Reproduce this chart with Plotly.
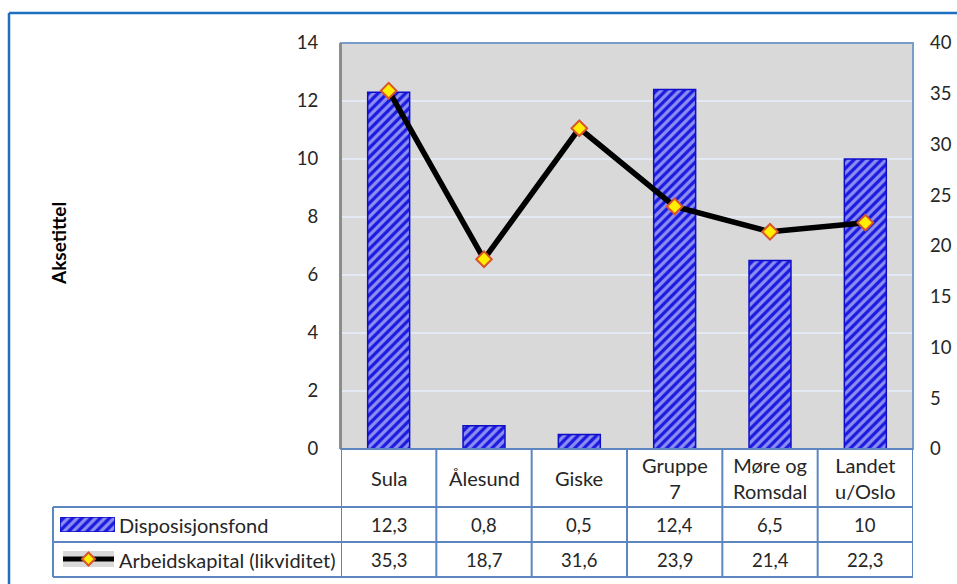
import plotly.graph_objects as go

# --- data -------------------------------------------------------------
categories = ["Sula", "Ålesund", "Giske", "Gruppe 7", "Møre og Romsdal", "Landet u/Oslo"]
header_labels = ["Sula", "Ålesund", "Giske", "Gruppe<br>7", "Møre og<br>Romsdal", "Landet<br>u/Oslo"]
disposisjonsfond = [12.3, 0.8, 0.5, 12.4, 6.5, 10]
arbeidskapital = [35.3, 18.7, 31.6, 23.9, 21.4, 22.3]
series_names = ["Disposisjonsfond", "Arbeidskapital (likviditet)"]
left_ticks = [0, 2, 4, 6, 8, 10, 12, 14]
right_ticks = [0, 5, 10, 15, 20, 25, 30, 35, 40]

# --- page geometry (pixels -> paper) ----------------------------------
W, H = 957, 584
def px(x):
    return x / W
def py(y):
    return 1 - y / H

PLOT_L, PLOT_R, PLOT_T, PLOT_B = 341, 913, 43, 449
ROW_LINES = [449, 507, 542, 577]
FONT = "Lato"
TXT = "#262626"
BLUE = "#1a1ae0"
GRID_BLUE = "#5b86c0"

bar_marker = dict(
    color=BLUE,
    line=dict(color="#0e0ec8", width=1.5),
    pattern=dict(shape="/", fgcolor="white", fillmode="overlay", size=6.5, solidity=0.5),
)
line_style = dict(color="black", width=5.5)
point_marker = dict(symbol="diamond", size=12, color="#ffee00",
                    line=dict(color="#d9542a", width=2))

fig = go.Figure()

fig.add_trace(go.Bar(
    x=categories, y=disposisjonsfond, name=series_names[0],
    marker=bar_marker, width=0.44, xaxis="x", yaxis="y",
))
fig.add_trace(go.Scatter(
    x=categories, y=arbeidskapital, name=series_names[1],
    mode="lines+markers", line=line_style, marker=point_marker,
    xaxis="x", yaxis="y2",
))

# legend keys inside the data table
fig.add_trace(go.Bar(
    x=[1], y=[0], orientation="h", width=1, marker=bar_marker,
    xaxis="x3", yaxis="y3", hoverinfo="skip",
))
fig.add_trace(go.Scatter(
    x=[0, 1], y=[0, 0], mode="lines", line=dict(color="black", width=5),
    xaxis="x4", yaxis="y4", hoverinfo="skip", cliponaxis=False,
))
fig.add_trace(go.Scatter(
    x=[0.5], y=[0], mode="markers",
    marker=dict(symbol="diamond", size=10, color="#ffee00",
                line=dict(color="#d9542a", width=2)),
    xaxis="x4", yaxis="y4", hoverinfo="skip", cliponaxis=False,
))

tick_font = dict(family=FONT, size=18.5, color=TXT)
hidden = dict(visible=False, fixedrange=True)

fig.update_layout(
    width=W, height=H,
    margin=dict(l=0, r=0, t=0, b=0, autoexpand=False),
    paper_bgcolor="white",
    plot_bgcolor="#d9d9d9",
    showlegend=False,
    xaxis=dict(
        domain=[px(PLOT_L), px(PLOT_R)], type="category",
        categoryorder="array", categoryarray=categories,
        range=[-0.5, 5.5], showticklabels=False, showgrid=False,
        ticks="", zeroline=False, showline=False, anchor="y",
    ),
    yaxis=dict(
        domain=[py(PLOT_B), py(PLOT_T)], range=[0, 14],
        tickvals=left_ticks, tickfont=tick_font, ticks="",
        ticklabelstandoff=17,
        showgrid=True, gridcolor="#e4eaf4", gridwidth=2,
        zeroline=False, showline=True, linecolor="#8c8c8c", linewidth=2,
        anchor="x",
    ),
    yaxis2=dict(
        overlaying="y", side="right", range=[0, 40], anchor="x",
        tickvals=right_ticks, tickfont=tick_font, ticks="",
        ticklabelstandoff=16, showgrid=False, zeroline=False, showline=False,
    ),
    xaxis3=dict(domain=[px(60), px(115)], range=[0, 1], anchor="y3", **hidden),
    yaxis3=dict(domain=[py(532), py(517)], range=[-0.5, 0.5], anchor="x3", **hidden),
    xaxis4=dict(domain=[px(63), px(114)], range=[0, 1], anchor="y4", **hidden),
    yaxis4=dict(domain=[py(567), py(551)], range=[-1, 1], anchor="x4", **hidden),
)

shapes = []
# plot area frame
shapes.append(dict(type="rect", xref="paper", yref="paper",
                   x0=px(PLOT_L), x1=px(PLOT_R), y0=py(PLOT_B), y1=py(PLOT_T),
                   line=dict(color="#7a9cc8", width=2), layer="above"))
shapes.append(dict(type="line", xref="paper", yref="paper",
                   x0=px(PLOT_L), x1=px(PLOT_L), y0=py(PLOT_B), y1=py(PLOT_T),
                   line=dict(color="#8c8c8c", width=2), layer="above"))

# data table: horizontal rules
shapes.append(dict(type="line", xref="paper", yref="paper",
                   x0=px(PLOT_L), x1=px(PLOT_R), y0=py(ROW_LINES[0]), y1=py(ROW_LINES[0]),
                   line=dict(color=GRID_BLUE, width=2)))
for yy in ROW_LINES[1:]:
    shapes.append(dict(type="line", xref="paper", yref="paper",
                       x0=px(53), x1=px(PLOT_R), y0=py(yy), y1=py(yy),
                       line=dict(color=GRID_BLUE, width=2)))
# data table: vertical rules at category boundaries
for i in range(len(categories) + 1):
    shapes.append(dict(type="line", xref="x", yref="paper",
                       x0=i - 0.5, x1=i - 0.5, y0=py(ROW_LINES[-1]), y1=py(ROW_LINES[0]),
                       line=dict(color=GRID_BLUE, width=2)))
# legend column left edge
shapes.append(dict(type="line", xref="paper", yref="paper",
                   x0=px(53), x1=px(53), y0=py(ROW_LINES[-1]), y1=py(ROW_LINES[1]),
                   line=dict(color=GRID_BLUE, width=2)))

# outer chart border
shapes.append(dict(type="line", xref="paper", yref="paper",
                   x0=px(9), x1=1.0, y0=py(13), y1=py(13),
                   line=dict(color="#1f6fc0", width=2.5)))
shapes.append(dict(type="line", xref="paper", yref="paper",
                   x0=px(9), x1=px(9), y0=0, y1=py(13),
                   line=dict(color="#1f6fc0", width=2.5)))
fig.update_layout(shapes=shapes)

annotations = []
text_font = dict(family=FONT, size=20, color=TXT)
num_font = dict(family=FONT, size=18.5, color=TXT)
row_mid = [(ROW_LINES[k] + ROW_LINES[k + 1]) / 2 for k in range(3)]
for i, lab in enumerate(header_labels):
    annotations.append(dict(x=i, y=py(row_mid[0]), xref="x", yref="paper",
                            text=lab, showarrow=False, font=text_font,
                            xanchor="center", yanchor="middle"))
for i, v in enumerate(disposisjonsfond):
    annotations.append(dict(x=i, y=py(row_mid[1]), xref="x", yref="paper",
                            text=f"{v:g}".replace(".", ","), showarrow=False,
                            font=num_font, xanchor="center", yanchor="middle"))
for i, v in enumerate(arbeidskapital):
    annotations.append(dict(x=i, y=py(row_mid[2]), xref="x", yref="paper",
                            text=f"{v:g}".replace(".", ","), showarrow=False,
                            font=num_font, xanchor="center", yanchor="middle"))
for k, name in enumerate(series_names):
    annotations.append(dict(x=px(117), y=py(row_mid[k + 1]), xref="paper", yref="paper",
                            text=name, showarrow=False, font=text_font,
                            xanchor="left", yanchor="middle"))
annotations.append(dict(x=px(58), y=py(244), xref="paper", yref="paper",
                        text="<b>Aksetittel</b>", textangle=-90, showarrow=False,
                        font=dict(family=FONT, size=19, color="black"),
                        xanchor="center", yanchor="middle"))
fig.update_layout(annotations=annotations)

fig.write_html("out.html")
